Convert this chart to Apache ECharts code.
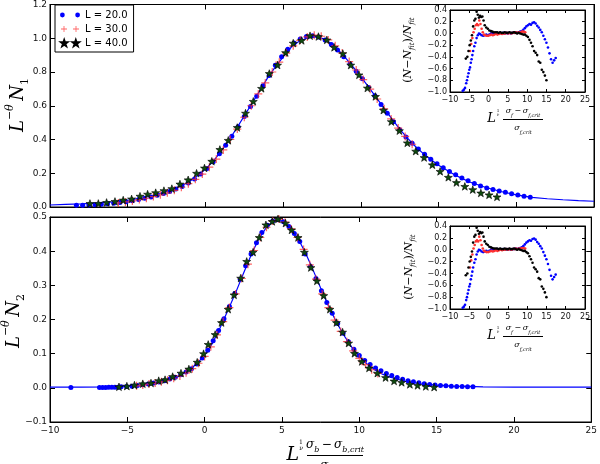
<!DOCTYPE html>
<html>
<head>
<meta charset="utf-8">
<script src="https://cdn.jsdelivr.net/npm/echarts@6/dist/echarts.min.js"></script>
<style>
html, body { margin: 0; padding: 0; background: #fff; }
#chart { width: 600px; height: 464px; }
</style>
</head>
<body>
<div id="chart"></div>
<script>
// ---- data ----
const legendNames = ['L = 20.0', 'L = 30.0', 'L = 40.0'];

// upper panel: L^-theta N_1
const fitN1 = [[-10,.012],[-9,.015],[-8,.018],[-7,.023],[-6,.030],[-5,.040],[-4,.055],[-3,.077],[-2,.108],[-1.5,.128],[-1,.153],[-0.5,.186],[0,.224],[0.5,.27],[1,.33],[1.5,.395],[2,.465],[2.5,.54],[3,.615],[3.5,.69],[4,.765],[4.5,.83],[5,.89],[5.5,.945],[6,.98],[6.5,1.0],[7,1.008],[7.5,1.0],[8,.975],[8.5,.935],[9,.885],[9.5,.83],[10,.772],[10.5,.71],[11,.648],[11.5,.585],[12,.522],[12.5,.462],[13,.408],[13.5,.36],[14,.318],[14.5,.281],[15,.248],[16,.192],[17,.148],[18,.117],[19,.092],[20,.072],[21,.057],[22,.049],[23,.043],[24,.038],[25,.034]];
const n1L20 = [[-8.3,.010],[-7.9,.011],[-7.5,.012],[-7.1,.014],[-6.7,.016],[-6.3,.019],[-5.9,.022],[-5.5,.026],[-5.1,.031],[-4.7,.037],[-4.3,.044],[-3.9,.052],[-3.5,.060],[-3.1,.070],[-2.7,.080],[-2.3,.092],[-1.9,.106],[-1.5,.122],[-1.1,.142],[-0.7,.166],[-0.3,.195],[0.1,.228],[0.5,.268],[0.9,.315],[1.3,.366],[1.7,.420],[2.1,.476],[2.5,.536],[2.9,.596],[3.3,.656],[3.7,.718],[4.1,.780],[4.5,.840],[4.9,.890],[5.3,.935],[5.7,.972],[6.1,.995],[6.5,1.010],[6.9,1.015],[7.3,1.008],[7.7,.990],[8.1,.963],[8.5,.930],[8.9,.890],[9.3,.848],[9.7,.805],[10.1,.760],[10.5,.708],[10.9,.660],[11.3,.608],[11.7,.556],[12.1,.505],[12.5,.458],[12.9,.415],[13.3,.378],[13.7,.343],[14.1,.312],[14.5,.283],[14.9,.257],[15.3,.233],[15.7,.211],[16.1,.191],[16.5,.172],[16.9,.155],[17.3,.139],[17.7,.125],[18.1,.113],[18.5,.103],[18.9,.095],[19.3,.087],[19.7,.079],[20.1,.071],[20.5,.064],[20.9,.058]];
const n1L30 = [[-5.6,.024],[-5.15,.030],[-4.7,.036],[-4.25,.044],[-3.8,.052],[-3.35,.062],[-2.9,.072],[-2.45,.084],[-2.0,.099],[-1.55,.117],[-1.1,.138],[-0.65,.164],[-0.2,.195],[0.25,.236],[0.7,.284],[1.15,.338],[1.6,.400],[2.05,.462],[2.5,.532],[2.95,.600],[3.4,.670],[3.85,.735],[4.3,.800],[4.75,.858],[5.2,.912],[5.65,.955],[6.1,.988],[6.55,1.008],[7.0,1.018],[7.45,1.012],[7.9,.990],[8.35,.955],[8.8,.912],[9.25,.862],[9.7,.812],[10.15,.755],[10.6,.698],[11.05,.640],[11.5,.582],[11.95,.522],[12.4,.468],[12.85,.418],[13.3,.372]];
const n1L40 = [[-7.43,.021],[-6.89,.021],[-6.36,.027],[-5.82,.033],[-5.29,.041],[-4.75,.048],[-4.21,.064],[-3.72,.076],[-3.20,.085],[-2.67,.097],[-2.16,.109],[-1.64,.136],[-1.11,.161],[-0.57,.200],[-0.06,.231],[0.41,.271],[0.93,.341],[1.47,.395],[2.05,.471],[2.58,.556],[3.08,.626],[3.61,.703],[4.11,.791],[4.64,.841],[5.16,.915],[5.65,.971],[6.19,.987],[6.73,1.015],[7.27,1.010],[7.81,.990],[8.28,.946],[8.84,.909],[9.35,.841],[9.88,.783],[10.42,.705],[10.94,.655],[11.45,.574],[11.96,.506],[12.48,.452],[12.99,.380],[13.53,.331],[14.07,.293],[14.60,.250],[15.10,.211],[15.63,.176],[16.15,.145],[16.69,.122],[17.20,.103],[17.72,.083],[18.25,.072],[18.76,.060]];

// lower panel: L^-theta N_2
const fitN2 = [[-10,.002],[-8,.002],[-6,.003],[-5,.005],[-4,.009],[-3,.016],[-2.5,.021],[-2,.028],[-1.5,.038],[-1,.052],[-0.5,.071],[0,.096],[0.5,.130],[1,.176],[1.5,.226],[2,.278],[2.5,.334],[3,.388],[3.5,.436],[4,.470],[4.5,.488],[5,.489],[5.5,.470],[6,.440],[6.5,.397],[7,.346],[7.5,.292],[8,.240],[8.5,.194],[9,.154],[9.5,.120],[10,.092],[10.5,.070],[11,.053],[11.5,.040],[12,.031],[13,.019],[14,.012],[15,.008],[16,.005],[17,.004],[18,.003],[20,.002],[25,.002]];
const n2L20 = [[-8.65,.001],[-6.8,.001],[-6.6,.001],[-6.4,.001],[-6.2,.002],[-6.0,.002],[-5.8,.002],[-5.6,.002],[-5.4,.003],[-5.05,.004],[-4.7,.005],[-4.35,.007],[-4.0,.009],[-3.65,.011],[-3.3,.014],[-2.95,.017],[-2.6,.021],[-2.25,.026],[-1.9,.031],[-1.55,.038],[-1.2,.046],[-0.85,.056],[-0.5,.070],[-0.15,.087],[0.2,.110],[0.55,.138],[0.9,.168],[1.25,.202],[1.6,.238],[1.95,.276],[2.3,.318],[2.65,.357],[3.0,.392],[3.35,.425],[3.7,.455],[4.05,.476],[4.4,.488],[4.75,.492],[5.1,.486],[5.45,.472],[5.8,.452],[6.15,.428],[6.5,.392],[6.85,.355],[7.2,.320],[7.55,.284],[7.9,.250],[8.25,.218],[8.6,.188],[8.95,.160],[9.3,.135],[9.65,.113],[10.0,.095],[10.35,.080],[10.7,.068],[11.05,.058],[11.4,.050],[11.75,.042],[12.1,.036],[12.45,.030],[12.8,.025],[13.15,.021],[13.5,.018],[13.85,.015],[14.2,.012],[14.55,.010],[14.9,.008],[15.25,.007],[15.6,.006],[15.95,.005],[16.3,.004],[16.65,.004],[17.0,.003],[17.35,.003]];
const n2L30 = [[-4.4,.006],[-4.0,.008],[-3.6,.011],[-3.2,.014],[-2.8,.018],[-2.4,.022],[-2.0,.028],[-1.6,.035],[-1.2,.044],[-0.8,.056],[-0.4,.072],[0.0,.092],[0.4,.120],[0.8,.155],[1.2,.194],[1.6,.235],[2.0,.275],[2.4,.320],[2.8,.362],[3.2,.402],[3.6,.440],[4.0,.470],[4.4,.488],[4.8,.494],[5.2,.485],[5.6,.465],[6.0,.440],[6.4,.405],[6.8,.360],[7.2,.318],[7.6,.275],[8.0,.235],[8.4,.198],[8.8,.165],[9.2,.135],[9.6,.108],[10.0,.086],[10.4,.068],[10.8,.053],[11.2,.042]];
const n2L40 = [[-5.54,.003],[-5.03,.005],[-4.54,.008],[-4.00,.012],[-3.47,.014],[-2.97,.021],[-2.56,.024],[-2.07,.033],[-1.53,.043],[-1.02,.055],[-0.48,.075],[-0.07,.100],[0.23,.127],[0.68,.156],[1.09,.191],[1.52,.230],[1.90,.272],[2.33,.321],[2.72,.370],[3.13,.397],[3.53,.440],[3.96,.477],[4.37,.487],[4.74,.494],[5.23,.482],[5.62,.462],[6.04,.440],[6.45,.397],[6.87,.352],[7.26,.313],[7.70,.270],[8.10,.230],[8.52,.191],[8.92,.163],[9.31,.131],[9.69,.101],[10.16,.077],[10.63,.058],[11.17,.043],[11.70,.030],[12.25,.020],[12.74,.016],[13.27,.010],[13.77,.007],[14.30,.004],[14.84,.002]];

// inset: (N - N_fit) / N_fit
const resL20 = [[-6.7,-0.98],[-6.4,-0.96],[-6.1,-0.93],[-5.8,-0.85],[-5.6,-0.80],[-5.4,-0.74],[-5.2,-0.68],[-5.0,-0.62],[-4.8,-0.58],[-4.6,-0.50],[-4.4,-0.44],[-4.2,-0.37],[-4.0,-0.30],[-3.7,-0.22],[-3.4,-0.16],[-3.1,-0.08],[-2.8,-0.03],[-2.5,0.0],[-2.2,-0.01],[-1.8,-0.03],[-1.4,-0.04],[-1.0,-0.03],[-0.6,-0.02],[-0.2,-0.03],[0.2,-0.02],[0.6,0.0],[1.0,0.01],[1.4,-0.01],[1.8,0.0],[2.2,0.01],[2.6,0.0],[3.0,0.01],[3.4,0.0],[3.8,0.01],[4.2,0.0],[4.6,0.01],[5.0,0.0],[5.4,0.01],[5.8,0.0],[6.2,0.01],[6.6,0.01],[7.0,0.02],[7.4,0.01],[7.8,0.02],[8.2,0.03],[8.6,0.04],[9.0,0.06],[9.4,0.09],[9.8,0.12],[10.2,0.14],[10.6,0.16],[11.0,0.15],[11.4,0.18],[11.8,0.19],[12.2,0.17],[12.6,0.13],[13.0,0.10],[13.4,0.06],[13.8,0.02],[14.2,-0.04],[14.6,-0.10],[15.0,-0.16],[15.4,-0.24],[15.8,-0.34],[16.2,-0.44],[16.6,-0.50],[17.0,-0.46],[17.4,-0.42]];
const resL30 = [[-4.8,-0.30],[-4.5,-0.18],[-4.2,-0.08],[-3.9,0.02],[-3.6,0.08],[-3.3,0.14],[-3.0,0.16],[-2.7,0.14],[-2.4,0.22],[-2.1,0.16],[-1.8,0.08],[-1.5,0.02],[-1.2,-0.02],[-0.9,-0.03],[-0.5,-0.04],[-0.1,-0.04],[0.3,-0.03],[0.7,-0.02],[1.1,-0.03],[1.5,-0.02],[1.9,-0.01],[2.3,-0.02],[2.7,-0.01],[3.1,0.0],[3.5,-0.01],[3.9,0.0],[4.3,0.0],[4.7,0.01],[5.1,0.0],[5.5,0.01],[5.9,0.0],[6.3,0.01],[6.7,0.01],[7.1,0.02],[7.5,0.01],[7.9,0.02],[8.3,0.02],[8.7,0.03],[9.1,0.03],[9.5,0.02]];
const resL40 = [[-5.9,-0.43],[-5.5,-0.40],[-5.2,-0.30],[-4.9,-0.20],[-4.6,-0.12],[-4.3,-0.03],[-4.0,0.12],[-3.7,0.22],[-3.4,0.25],[-3.1,0.37],[-2.8,0.32],[-2.5,0.27],[-2.2,0.30],[-1.9,0.28],[-1.6,0.29],[-1.3,0.22],[-1.0,0.14],[-0.6,0.10],[-0.2,0.08],[0.2,0.05],[0.6,0.04],[1.0,0.03],[1.4,0.02],[1.8,0.02],[2.2,0.02],[2.6,0.01],[3.0,0.02],[3.4,0.01],[3.8,0.01],[4.2,0.02],[4.6,0.01],[5.0,0.01],[5.4,0.02],[5.8,0.01],[6.2,0.01],[6.6,0.02],[7.0,0.01],[7.4,0.0],[7.8,0.01],[8.2,0.0],[8.6,-0.01],[9.0,-0.02],[9.4,-0.02],[9.8,-0.04],[10.2,-0.06],[10.6,-0.11],[11.0,-0.16],[11.4,-0.22],[11.8,-0.30],[12.2,-0.33],[12.6,-0.37],[13.0,-0.48],[13.4,-0.50],[13.8,-0.62],[14.2,-0.66],[14.6,-0.72],[15.0,-0.80]];

// ---- styling helpers ----
const BLUE = '#0000ff', RED = '#ff3030', GREEN = '#0f4a0f';
const plusPath = 'path://M0,3.4H8V4.6H0ZM3.4,0H4.6V8H3.4Z';
const starPath = 'path://M10,0L12.35,6.76L19.51,6.91L13.8,11.24L15.88,18.09L10,14L4.12,18.09L6.2,11.24L0.49,6.91L7.65,6.76Z';
const dots2 = 'path://M0,4a2.2,2.2 0 1,0 4.4,0a2.2,2.2 0 1,0 -4.4,0ZM14,4a2.2,2.2 0 1,0 4.4,0a2.2,2.2 0 1,0 -4.4,0Z';
const plus2 = 'path://M0,3.5H7V4.5H0ZM3,0.5H4V7.5H3ZM14,3.5H21V4.5H14ZM17,0.5H18V7.5H17Z';
const stars2 = 'path://M4,0L4.94,2.7L7.8,2.76L5.52,4.5L6.35,7.24L4,5.6L1.65,7.24L2.48,4.5L0.2,2.76L3.06,2.7ZM18,0L18.94,2.7L21.8,2.76L19.52,4.5L20.35,7.24L18,5.6L15.65,7.24L16.48,4.5L14.2,2.76L17.06,2.7Z';

const neg = v => (v < -1e-9 ? '\u2212' : '');
const fmtInt = v => neg(v) + Math.abs(Math.round(v));
const fmtDec = v => neg(v) + Math.abs(v).toFixed(1);

const grids = [
  { left: 50, top: 1, width: 544, height: 206 },
  { left: 50, top: 217, width: 544, height: 205 },
  { left: 450, top: 10, width: 135, height: 82, backgroundColor: '#fff' },
  { left: 450, top: 226, width: 135, height: 83, backgroundColor: '#fff' }
].map(g => Object.assign({ show: true, borderColor: '#000', borderWidth: 1 }, g));

const xAxes = [], yAxes = [];
function addAxes(gi, xr, yr, showX, fs, tick) {
  ['bottom', 'top'].forEach((pos, k) => xAxes.push({
    type: 'value', gridIndex: gi, position: pos, min: xr[0], max: xr[1], interval: xr[2],
    axisLine: { show: true, onZero: false, lineStyle: { color: '#000', width: 1 } },
    axisTick: { show: true, inside: true, length: tick, lineStyle: { color: '#000' } },
    axisLabel: { show: showX && k === 0, formatter: fmtInt, fontSize: fs, color: '#111', margin: 4, fontFamily: 'DejaVu Sans' },
    splitLine: { show: false }
  }));
  ['left', 'right'].forEach((pos, k) => yAxes.push({
    type: 'value', gridIndex: gi, position: pos, min: yr[0], max: yr[1], interval: yr[2],
    axisLine: { show: true, onZero: false, lineStyle: { color: '#000', width: 1 } },
    axisTick: { show: true, inside: true, length: tick, lineStyle: { color: '#000' } },
    axisLabel: { show: k === 0, formatter: fmtDec, fontSize: fs, color: '#111', margin: 3, fontFamily: 'DejaVu Sans' },
    splitLine: { show: false }
  }));
}
addAxes(0, [-10, 25, 5], [0, 1.2, 0.2], false, 9, 5);
addAxes(1, [-10, 25, 5], [-0.1, 0.5, 0.1], true, 9, 5);
addAxes(2, [-10, 25, 5], [-1, 0.4, 0.2], true, 8, 3);
addAxes(3, [-10, 25, 5], [-1, 0.4, 0.2], true, 8, 3);

const series = [];
function panel(gi, fit, d20, d30, d40, tag) {
  const idx = { xAxisIndex: gi * 2, yAxisIndex: gi * 2 };
  series.push(Object.assign({ name: 'fit' + tag, type: 'line', data: fit, showSymbol: false, symbol: 'none',
    lineStyle: { color: BLUE, width: 1.2 }, z: 2 }, idx));
  series.push(Object.assign({ name: tag === 1 ? legendNames[0] : 'b' + tag, type: 'scatter', data: d20,
    symbol: 'circle', symbolSize: 5, itemStyle: { color: BLUE, opacity: 1 }, symbolKeepAspect: true, z: 3 }, idx));
  series.push(Object.assign({ name: tag === 1 ? legendNames[1] : 'r' + tag, type: 'scatter', data: d30,
    symbol: plusPath, symbolSize: 8, itemStyle: { color: RED, opacity: 0.75 }, symbolKeepAspect: true, z: 4 }, idx));
  series.push(Object.assign({ name: tag === 1 ? legendNames[2] : 'g' + tag, type: 'scatter', data: d40,
    symbol: starPath, symbolSize: 8, itemStyle: { color: GREEN, borderColor: '#000', borderWidth: 0.6, opacity: 1 },
    symbolKeepAspect: true, z: 5 }, idx));
}
panel(0, fitN1, n1L20, n1L30, n1L40, 1);
panel(1, fitN2, n2L20, n2L30, n2L40, 2);

function inset(gi) {
  const idx = { xAxisIndex: gi * 2, yAxisIndex: gi * 2 };
  [[resL20, BLUE], [resL30, RED], [resL40, '#000']].forEach(([d, c], k) =>
    series.push(Object.assign({ name: 'res' + gi + k, type: 'scatter', data: d, symbol: 'circle',
      symbolSize: 2.6, itemStyle: { color: c, opacity: 1 }, z: 6 + k }, idx)));
}
inset(2);
inset(3);

// ---- text labels (math-like) ----
const serif = { fontFamily: 'DejaVu Serif', fontStyle: 'italic', fill: '#000' };
function ylab(x, y, sub) {
  return { type: 'text', x, y, rotation: Math.PI / 2, style: {
    text: '{l|L}{s|\u2212\u03b8}{n|\u2009N}{b|' + sub + '}', align: 'center', verticalAlign: 'middle',
    rich: {
      l: Object.assign({ fontSize: 18, lineHeight: 26, verticalAlign: 'middle' }, serif),
      s: Object.assign({ fontSize: 11, lineHeight: 26, verticalAlign: 'top' }, serif),
      n: Object.assign({ fontSize: 18, lineHeight: 26, verticalAlign: 'middle' }, serif),
      b: { fontSize: 11, lineHeight: 26, verticalAlign: 'bottom', fontFamily: 'DejaVu Serif', fill: '#000' }
    } } };
}
// L^{1/nu} (sigma - sigma_crit) / sigma_crit
function fracLabel(lx, cx, cy, letter, big, sym, sub, lineHalf) {
  const rich = {
    i: Object.assign({ fontSize: sym, verticalAlign: 'middle', lineHeight: sym + 6 }, serif),
    s: Object.assign({ fontSize: sub, verticalAlign: 'bottom', lineHeight: sym + 6 }, serif),
    o: { fontSize: sym, fontFamily: 'DejaVu Sans', fill: '#000', lineHeight: sym + 6 }
  };
  const symA = '{i|\u03c3}{s|' + letter + '}';
  const symC = '{i|\u03c3}{s|' + letter + ',crit}';
  return [
    { type: 'text', x: lx, y: cy, style: Object.assign({ text: 'L', fontSize: big, align: 'right', verticalAlign: 'middle' }, serif) },
    { type: 'text', x: lx + 2, y: cy - big * 0.5, style: { text: '1', fontSize: big * 0.32, fontFamily: 'DejaVu Serif', fill: '#000', align: 'center', verticalAlign: 'bottom' } },
    { type: 'text', x: lx + 2, y: cy - big * 0.5, style: Object.assign({ text: '\u03bd', fontSize: big * 0.32, align: 'center', verticalAlign: 'top' }, serif) },
    { type: 'text', x: cx, y: cy - 1, style: { text: symA + '{o|\u2009\u2212\u2009}' + symC, rich, align: 'center', verticalAlign: 'bottom' } },
    { type: 'line', shape: { x1: cx - lineHalf, y1: cy + 0.5, x2: cx + lineHalf, y2: cy + 0.5 }, style: { stroke: '#000', lineWidth: 1 } },
    { type: 'text', x: cx, y: cy + 2, style: { text: symC, rich, align: 'center', verticalAlign: 'top' } }
  ];
}
function insetYLab(x, y) {
  return { type: 'text', x, y, rotation: Math.PI / 2, style: {
    text: '({n|N}\u2212{n|N}{s|fit}){n|/}{n|N}{s|fit}', align: 'center', verticalAlign: 'middle',
    rich: {
      n: Object.assign({ fontSize: 11, lineHeight: 16, verticalAlign: 'middle' }, serif),
      s: Object.assign({ fontSize: 7, lineHeight: 16, verticalAlign: 'bottom' }, serif)
    }, fontSize: 11, fontFamily: 'DejaVu Serif', fill: '#000' } };
}

const graphics = [
  ylab(18, 105, '1'),
  ylab(14, 321, '2'),
  insetYLab(408, 50),
  insetYLab(409, 267)
].concat(fracLabel(299, 335, 455, 'b', 19, 12, 8, 28))
 .concat(fracLabel(496, 523, 119, 'f', 13, 8, 5, 20))
 .concat(fracLabel(496, 523, 336, 'f', 13, 8, 5, 20));

const chart = echarts.init(document.getElementById('chart'), null, { renderer: 'canvas' });
chart.setOption({
  animation: false,
  backgroundColor: '#fff',
  grid: grids,
  xAxis: xAxes,
  yAxis: yAxes,
  legend: {
    orient: 'vertical', left: 55, top: 5, padding: [5, 6, 4, 5], itemGap: 4,
    itemWidth: 20, itemHeight: 6, borderColor: '#000', borderWidth: 1, borderRadius: 0,
    backgroundColor: '#fff', textStyle: { fontSize: 10, color: '#000', fontFamily: 'DejaVu Sans' },
    selectedMode: false,
    data: [
      { name: legendNames[0], icon: dots2 },
      { name: legendNames[1], icon: plus2 },
      { name: legendNames[2], icon: stars2 }
    ]
  },
  series: series,
  graphic: graphics
});
</script>
</body>
</html>
